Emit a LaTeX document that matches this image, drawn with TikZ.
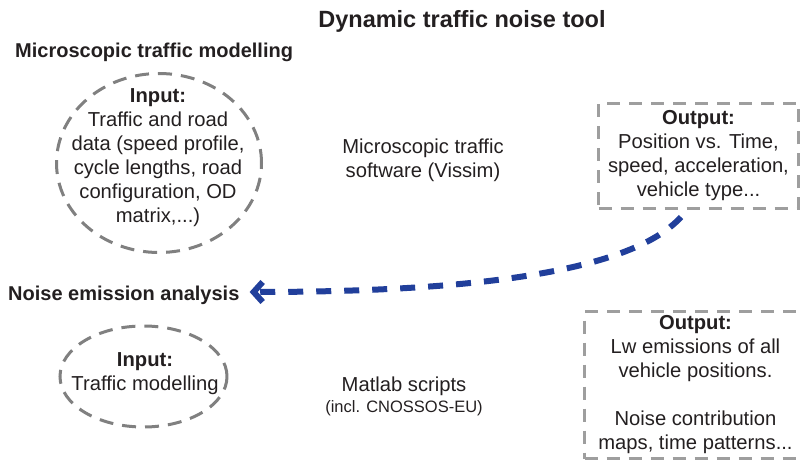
\documentclass[tikz,border=0pt]{standalone}
\usepackage{fontspec}
\setmainfont{Liberation Sans}
\usetikzlibrary{arrows.meta,shapes.geometric}
\definecolor{inkc}{RGB}{35,31,32}
\definecolor{ellgray}{RGB}{128,128,128}
\definecolor{boxgray}{RGB}{158,158,158}
\definecolor{flowblue}{RGB}{33,63,155}
\begin{document}
\begin{tikzpicture}[x=1pt,y=-1pt,
  every node/.style={text=inkc},
  body/.style={font=\fontsize{20.2}{24}\selectfont, align=center, inner sep=0pt},
  smalltext/.style={font=\fontsize{16.5}{20}\selectfont, inner sep=0pt},
  heading/.style={font=\fontsize{20}{24}\selectfont\bfseries, inner sep=0pt},
  titletext/.style={font=\fontsize{23.5}{28}\selectfont\bfseries, inner sep=0pt},
  inputshape/.style={ellipse, draw=ellgray, line width=3pt,
    dash pattern=on 14pt off 9pt, inner sep=0pt},
  outputbox/.style={rectangle, draw=boxgray, line width=3pt,
    dash pattern=on 13pt off 9pt, inner sep=0pt, align=center,
    font=\fontsize{20.2}{24}\selectfont},
  flow/.style={draw=flowblue, line width=6pt, dash pattern=on 15pt off 13pt,
    -{Straight Barb[length=9pt,width=20pt]}}
]
\useasboundingbox (0,0) rectangle (803,462);

% headings
\node[titletext] (title) at (462,21) {Dynamic traffic noise tool};
\node[heading, anchor=west] (micro) at (15,52) {Microscopic traffic modelling};
\node[heading, anchor=west] (noise) at (8,295) {Noise emission analysis};

% microscopic traffic modelling row
\node[inputshape, minimum width=205pt, minimum height=179pt] (in1) at (159,163) {};
\node[body] (in1text) at (158,158) {\textbf{Input:}\\Traffic and road\\data (speed profile,\\cycle lengths, road\\configuration, OD\\matrix,...)};
\node[body] (vissim) at (423,160) {Microscopic traffic\\software (Vissim)};
\node[outputbox, minimum width=200pt, minimum height=105pt] (out1) at (698.5,156)
  {\textbf{Output:}\\Position vs. Time,\\speed, acceleration,\\vehicle type...};

% noise emission analysis row
\node[inputshape, minimum width=167pt, minimum height=101pt] (in2) at (143.5,376.5) {};
\node[body] (in2text) at (145,373.5) {\textbf{Input:}\\Traffic modelling};
\node[body] (matlab) at (404,386) {Matlab scripts};
\node[smalltext] (incl) at (404,408) {(incl. CNOSSOS-EU)};
\node[outputbox, minimum width=230pt, minimum height=147pt] (out2) at (699.5,385) {};
\node[body] (out2text) at (695.5,385)
  {\textbf{Output:}\\Lw emissions of all\\vehicle positions.\\[24pt]Noise contribution\\maps, time patterns...};

% data flow from traffic output to emission analysis
\draw[flow] ([xshift=-17.5pt,yshift=-7pt]out1.south)
  .. controls (640,262) and (520,292) .. ([xshift=10pt,yshift=3pt]noise.east);
\end{tikzpicture}
\end{document}
